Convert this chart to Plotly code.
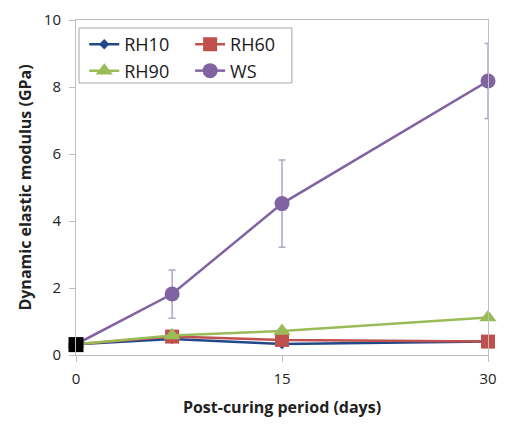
import plotly.graph_objects as go

days = [0, 7, 15, 30]
rh10 = [0.32, 0.48, 0.33, 0.40]
rh60 = [0.32, 0.55, 0.45, 0.40]
rh90 = [0.32, 0.58, 0.72, 1.12]
ws = [0.32, 1.82, 4.52, 8.18]
ws_err = [0.0, 0.72, 1.30, 1.12]
initial_x = [0]
initial_y = [0.31]
x_ticks = [0, 15, 30]
y_ticks = [0, 2, 4, 6, 8, 10]

FONT = "Open Sans"
fig = go.Figure()

fig.add_trace(go.Scatter(x=days, y=rh10, name="RH10", mode="lines+markers",
                         line=dict(color="#22488A", width=2.5),
                         marker=dict(symbol="diamond", size=8, color="#22488A"),
                         cliponaxis=False, legend="legend"))
fig.add_trace(go.Scatter(x=days, y=rh60, name="RH60", mode="lines+markers",
                         line=dict(color="#C0504D", width=2.5),
                         marker=dict(symbol="square", size=14, color="#C0504D"),
                         cliponaxis=False, legend="legend2"))
fig.add_trace(go.Scatter(x=days, y=rh90, name="RH90", mode="lines+markers",
                         line=dict(color="#9BBB59", width=2.5),
                         marker=dict(symbol="triangle-up", size=15, color="#9BBB59"),
                         cliponaxis=False, legend="legend"))
fig.add_trace(go.Scatter(x=days, y=ws, name="WS", mode="lines+markers",
                         line=dict(color="#8064A2", width=2.5),
                         marker=dict(symbol="circle", size=15, color="#8064A2"),
                         error_y=dict(type="data", array=ws_err, visible=True,
                                      color="#B4A4CC", thickness=1.5, width=3.5),
                         cliponaxis=False, legend="legend2"))
fig.add_trace(go.Scatter(x=initial_x, y=initial_y, mode="markers", showlegend=False,
                         marker=dict(symbol="square", size=15, color="black"),
                         cliponaxis=False))

legend_common = dict(
    font=dict(family=FONT, size=18, color="#1a1a1a"),
    bgcolor="rgba(0,0,0,0)", borderwidth=0,
    xanchor="left", yanchor="top", orientation="v",
    itemclick=False, itemdoubleclick=False, tracegroupgap=0,
)

fig.update_layout(
    width=498, height=419,
    margin=dict(l=68, r=18, t=12, b=72),
    paper_bgcolor="white", plot_bgcolor="white",
    font=dict(family=FONT, color="#222222"),
    legend=dict(x=0.020, y=0.982, **legend_common),
    legend2=dict(x=0.277, y=0.982, **legend_common),
    shapes=[dict(type="rect", xref="paper", yref="paper",
                 x0=0.0073, x1=0.524, y0=0.812, y1=0.976,
                 line=dict(color="#A6A6A6", width=1), fillcolor="rgba(0,0,0,0)")],
    xaxis=dict(range=[0, 30], tickvals=x_ticks, ticks="outside", ticklen=6,
               tickcolor="#BFBFBF", showline=True, linecolor="#BFBFBF", linewidth=1,
               mirror=True, showgrid=False, zeroline=False, automargin=False,
               ticklabelstandoff=4,
               tickfont=dict(family=FONT, size=15, color="#222222"),
               title=dict(text="<b>Post-curing period (days)</b>", standoff=14,
                          font=dict(family=FONT, size=16, color="#222222"))),
    yaxis=dict(range=[0, 10], tickvals=y_ticks, ticks="outside", ticklen=6,
               tickcolor="#BFBFBF", showline=True, linecolor="#BFBFBF", linewidth=1,
               mirror=True, showgrid=False, zeroline=False, automargin=False,
               ticklabelstandoff=5,
               tickfont=dict(family=FONT, size=15, color="#222222"),
               title=dict(text="<b>Dynamic elastic modulus (GPa)</b>", standoff=8,
                          font=dict(family=FONT, size=16, color="#222222"))),
)

fig.write_html("out.html")
